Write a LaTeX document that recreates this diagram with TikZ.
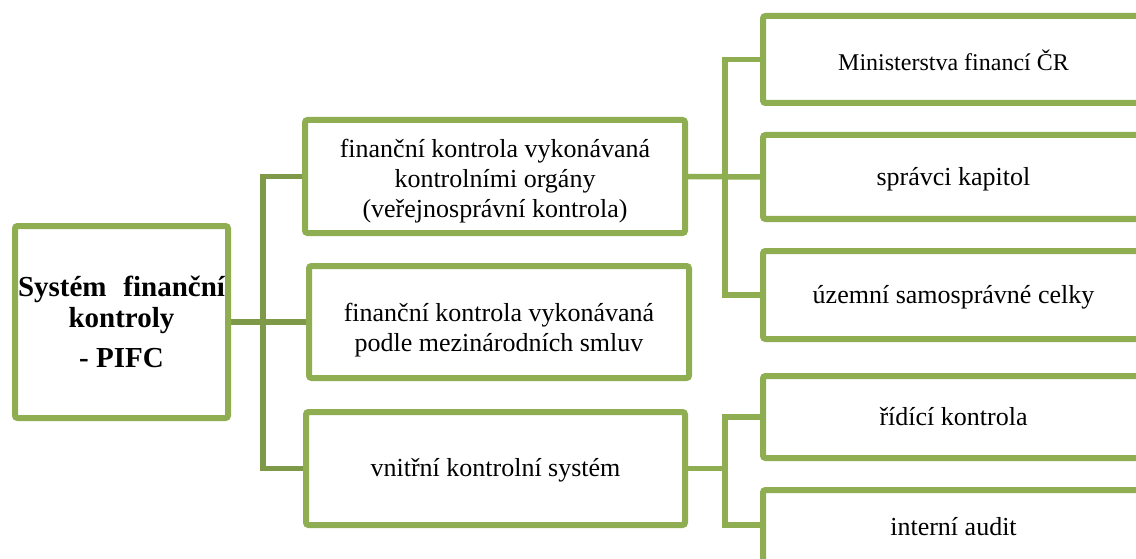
\documentclass[tikz,border=0pt]{standalone}
\usepackage{fontspec}
\setmainfont{Liberation Serif}
\usetikzlibrary{backgrounds}
\definecolor{boxg}{HTML}{8FAE52}
\definecolor{connd}{HTML}{7E9A49}
\begin{document}
\begin{tikzpicture}[x=1pt,y=-1pt,
  bx/.style={draw=boxg,line width=6pt,rounded corners=2.5pt,fill=white,
    inner sep=0pt,outer sep=0pt,align=center,text=black,
    font=\fontsize{26}{30}\selectfont},
  conn/.style={draw=boxg,line width=5.5pt},
  lconn/.style={draw=connd,line width=5.5pt}]
\useasboundingbox (0,0) rectangle (1136,559);
\clip (0,0) rectangle (1136,559);
% root
\node[bx,minimum width=213pt,minimum height=192pt,
  font=\fontsize{29}{31.7}\selectfont\bfseries] (root) at (121.5,322)
  {\hbox to 207pt{Systém\hfill finanční}\\kontroly\\[8.3pt]- PIFC};
% middle column
\node[bx,minimum width=380pt,minimum height=113pt] (m1) at (495,176.5)
  {\rule{0pt}{27pt}finanční kontrola vykonávaná\\kontrolními orgány\\(veřejnosprávní kontrola)};
\node[bx,minimum width=380pt,minimum height=112pt] (m2) at (499,322)
  {\rule{0pt}{35pt}finanční kontrola vykonávaná\\podle mezinárodních smluv};
\node[bx,minimum width=379pt,minimum height=113pt] (m3) at (495.5,468.5)
  {\rule{0pt}{22pt}vnitřní kontrolní systém};
% right column
\node[bx,minimum width=381pt,minimum height=87pt,
  font=\fontsize{24}{28}\selectfont] (ra) at (953.5,59.5)
  {\rule{0pt}{23pt}Ministerstva financí ČR};
\node[bx,minimum width=381pt,minimum height=84pt] (rb) at (953.5,177)
  {\rule{0pt}{21.6pt}správci kapitol};
\node[bx,minimum width=381pt,minimum height=88pt] (rc) at (953.5,295)
  {\rule{0pt}{22.2pt}územní samosprávné celky};
\node[bx,minimum width=381pt,minimum height=82pt] (rd) at (953.5,417)
  {řídící kontrola};
\node[bx,minimum width=381pt,minimum height=80pt] (re) at (953.5,530)
  {\rule[-8pt]{0pt}{8pt}interní audit};
% connectors
\coordinate (lt) at (263,322);
\coordinate (rt) at (725,176.5);
\coordinate (bt) at (725,468.5);
\coordinate (be) at (725,525);
\begin{scope}[on background layer]
  \draw[lconn] (root.east) -- (m2.west);
  \draw[lconn] (lt) |- (m1.west);
  \draw[lconn] (lt) |- (m3.west);
  \draw[conn] (m1.east) -- (rb.west);
  \draw[conn] (rt) |- (ra.west);
  \draw[conn] (rt) |- (rc.west);
  \draw[conn] (m3.east) -- (bt);
  \draw[conn] (bt) |- (rd.west);
  \draw[conn] (bt) -- (be) -- (be -| re.west);
\end{scope}
\end{tikzpicture}
\end{document}
